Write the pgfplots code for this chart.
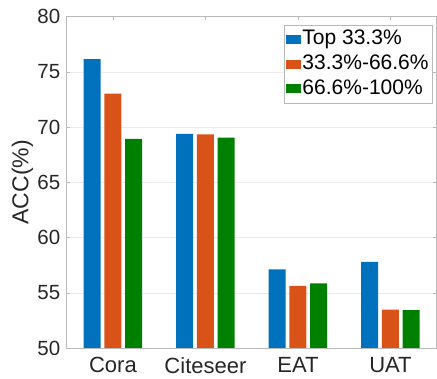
\documentclass[border=0pt]{standalone}
\usepackage{fontspec}
\setmainfont{Liberation Sans}
\usepackage{pgfplots}
\pgfplotsset{compat=1.18}
\definecolor{mblue}{RGB}{0,114,189}
\definecolor{morange}{RGB}{217,83,25}
\definecolor{mgreen}{RGB}{0,128,0}
\definecolor{axgray}{RGB}{185,185,185}
\definecolor{txt}{RGB}{38,38,38}
\definecolor{gridc}{RGB}{235,235,235}
\begin{document}
\begin{tikzpicture}
\begin{axis}[
  name=ax,
  scale only axis, width=370pt, height=331.3pt,
  ybar=3.7pt, bar width=17pt,
  xmin=0.5, xmax=4.5, ymin=50, ymax=80,
  xtick={1,2,3,4}, xticklabels={Cora,Citeseer,EAT,UAT},
  ytick={50,55,...,80},
  tick align=inside, major tick length=3.5pt,
  axis line style={axgray}, tick style={axgray, line width=0.5pt},
  ymajorgrids, grid style={gridc, line width=0.5pt},
  /pgf/number format/assume math mode=true,
  xticklabel style={font=\fontsize{22}{26}\selectfont, text=txt, yshift=-6pt},
  yticklabel style={font=\fontsize{20.5}{24}\selectfont, text=txt, xshift=-3pt},
  ylabel={ACC(\%)},
  ylabel style={font=\fontsize{23}{27}\selectfont, text=txt, at={(axis description cs:-0.12,0.5)}, anchor=center},
  legend cell align=left,
  legend style={at={(0.988,0.975)}, anchor=north east, draw=axgray, fill=white,
    font=\fontsize{21}{25}\selectfont, text=black, inner xsep=2pt, inner ysep=2pt,
    row sep=0pt, nodes={inner sep=1.5pt, text height=16pt, text depth=5.7pt},
    /tikz/every even column/.append style={column sep=0pt}},
  legend image code/.code={\fill[#1] (0pt,-4.5pt) rectangle (15pt,4.5pt);},
]
\addplot[fill=mblue, draw=none] coordinates {(1,76.15) (2,69.38) (3,57.13) (4,57.79)};
\addplot[fill=morange, draw=none] coordinates {(1,73.03) (2,69.35) (3,55.62) (4,53.47)};
\addplot[fill=mgreen, draw=none] coordinates {(1,68.93) (2,69.05) (3,55.86) (4,53.44)};
\legend{Top 33.3\%,33.3\%-66.6\%,66.6\%-100\%}
\end{axis}
\pgfresetboundingbox
\path (ax.south west) ++(-66.7pt,-31pt) rectangle ++(437pt,379pt);
\end{tikzpicture}
\end{document}
